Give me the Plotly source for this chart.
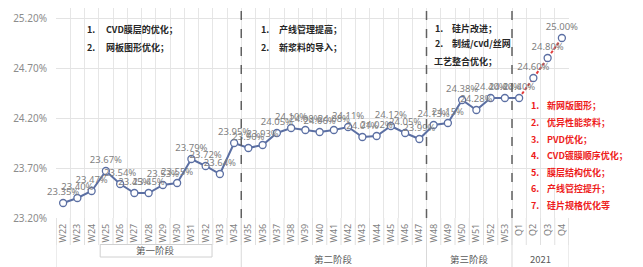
import plotly.graph_objects as go

categories = ["W22", "W23", "W24", "W25", "W26", "W27", "W28", "W29", "W30", "W31",
              "W32", "W33", "W34", "W35", "W36", "W37", "W38", "W39", "W40", "W41",
              "W42", "W43", "W44", "W45", "W46", "W47", "W48", "W49", "W50", "W51",
              "W52", "W53", "Q1", "Q2", "Q3", "Q4"]
values = [23.35, 23.40, 23.47, 23.67, 23.54, 23.45, 23.45, 23.53, 23.55, 23.79,
          23.72, 23.64, 23.95, 23.90, 23.93, 24.05, 24.10, 24.08, 24.06, 24.08,
          24.11, 24.01, 24.02, 24.12, 24.05, 23.99, 24.13, 24.15, 24.38, 24.28,
          24.40, 24.40, 24.40, 24.60, 24.80, 25.00]
forecast_start = "Q1"
groups = ["第一阶段", "第二阶段", "第三阶段", "2021"]
group_ranges = [(0, 12), (13, 25), (26, 31), (32, 35)]
notes1 = ["CVD膜层的优化；", "网板图形优化；"]
notes2 = ["产线管理提高；", "新浆料的导入；"]
notes3 = ["硅片改进；", "制绒/cvd/丝网", "工艺整合优化；"]
notes_red = ["新网版图形；", "优异性能浆料；", "PVD优化；", "CVD镀膜顺序优化；",
             "膜层结构优化；", "产线管控提升；", "硅片规格优化等"]

W, H = 643, 267
ML, MR, MT, MB = 56, 74, 8, 49
PW, PH = W - ML - MR, H - MT - MB
FONT = "Noto Sans, Noto Sans CJK SC, sans-serif"
CJK = "Noto Sans CJK SC, sans-serif"
BLUE = "#5b6fa3"


def px(x):
    return (x - ML) / PW


def py(y):
    return (H - MB - y) / PH


k = categories.index(forecast_start)
fig = go.Figure()
fig.add_trace(go.Scatter(x=categories[:k + 1], y=values[:k + 1], mode="lines",
                         line=dict(color=BLUE, width=2), hoverinfo="skip"))
fig.add_trace(go.Scatter(x=categories[k:], y=values[k:], mode="lines",
                         line=dict(color="#e03b3b", width=2, dash="3px,2px"), hoverinfo="skip"))
fig.add_trace(go.Scatter(x=categories, y=values, mode="markers+text", cliponaxis=False,
                         marker=dict(size=7, color="white", line=dict(color=BLUE, width=1.3)),
                         text=[f"{v:.2f}%" for v in values], textposition="top center",
                         textfont=dict(family=FONT, size=9.5, color="#7f7f7f")))

shapes = []
for b in [12.5, 25.5, 31.5]:
    shapes.append(dict(type="line", xref="x", yref="paper", x0=b, x1=b, y0=0, y1=py(10),
                       line=dict(color="#606060", width=1.5, dash="dash")))
n = len(categories)
for i in range(n + 1):
    b = i - 0.5
    shapes.append(dict(type="line", xref="x", yref="paper", x0=b, x1=b, y0=0, y1=py(245),
                       line=dict(color="#e0e0e0", width=1), layer="below"))
for b in [-0.5, 12.5, 25.5, 31.5, 35.5]:
    shapes.append(dict(type="line", xref="x", yref="paper", x0=b, x1=b, y0=py(218), y1=py(267),
                       line=dict(color="#d9d9d9", width=1), layer="below"))
shapes.append(dict(type="rect", xref="x", yref="paper", x0=2.6, x1=10.45, y0=py(257), y1=py(244.5),
                   line=dict(color="#d0d0d0", width=1), fillcolor="white", layer="below"))

ann = []
for (a, b), g in zip(group_ranges, groups):
    c = (a + b) / 2
    y = 259
    if a == 0:
        c = 6.5
        y = 250.5
    ann.append(dict(x=c, xref="x", y=py(y), yref="paper", text=g, showarrow=False,
                    yanchor="middle", font=dict(family=CJK, size=9.5, color="#595959")))


def add_text(x, y, t, color):
    ann.append(dict(x=px(x), xref="paper", y=py(y), yref="paper", text=f"<b>{t}</b>",
                    showarrow=False, xanchor="left", yanchor="middle",
                    font=dict(family=CJK, size=9, color=color)))


def note_block(nx, tx, ys, texts, color):
    for i, (yy, t) in enumerate(zip(ys, texts)):
        add_text(nx, yy, f"{i + 1}.", color)
        add_text(tx, yy, t, color)


note_block(85, 104, [30, 47], notes1, "#262626")
note_block(259, 277, [30, 47], notes2, "#262626")
note_block(433, 450, [28, 44], notes3[:2], "#262626")
add_text(432, 62, notes3[2], "#262626")
note_block(529, 545, [105, 122, 139, 155, 172, 188.5, 205], notes_red, "#ee1c1c")

fig.update_layout(
    width=W, height=H, margin=dict(l=ML, r=MR, t=MT, b=MB, autoexpand=False),
    paper_bgcolor="white", plot_bgcolor="white", showlegend=False,
    shapes=shapes, annotations=ann,
    xaxis=dict(type="category", categoryorder="array", categoryarray=categories,
               range=[-0.5, n - 0.5], tickson="boundaries", showgrid=True, gridcolor="#e6e6e6",
               ticks="", tickangle=-90, tickfont=dict(family=FONT, size=9, color="#7f7f7f"),
               ticklabelstandoff=3, zeroline=False, showline=False),
    yaxis=dict(range=[23.2, 25.3], tick0=23.2, dtick=0.5, tickformat=".2f", ticksuffix="%",
               showgrid=True, gridcolor="#e3e3e3", zeroline=False, showline=False, ticks="",
               tickfont=dict(family=FONT, size=10, color="#8c8c8c"), ticklabelstandoff=8),
)
fig.write_html("out.html", config={"displayModeBar": False},
               post_script="document.body.style.margin='0';document.body.style.overflow='hidden';")
